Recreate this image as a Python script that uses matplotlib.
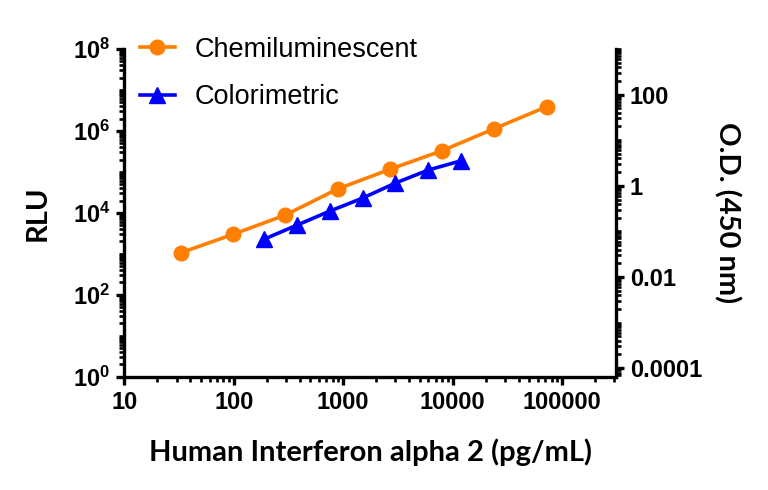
import numpy as np
import matplotlib
matplotlib.use("Agg")
import matplotlib.pyplot as plt
from matplotlib.ticker import FixedLocator, LogLocator, NullFormatter, FuncFormatter
from matplotlib import font_manager

# data
chemi_conc = [32.9, 98.8, 296, 889, 2667, 8000, 24000, 72000]
chemi_rlu = [1065, 3000, 8870, 38300, 115700, 329000, 1135000, 3900000]
color_conc = [188, 375, 750, 1500, 3000, 6000, 12000]
color_od = [0.067, 0.136, 0.277, 0.536, 1.15, 2.22, 3.55]

left_ticks = [1e0, 1e2, 1e4, 1e6, 1e8]
right_ticks = [1e-4, 1e-2, 1, 100]
right_labels = ["0.0001", "0.01", "1", "100"]
x_ticks = [10, 100, 1000, 10000, 100000]

names = {f.name for f in font_manager.fontManager.ttflist}
tick_font = "Liberation Sans Narrow" if "Liberation Sans Narrow" in names else "Liberation Sans"
plt.rcParams["mathtext.fontset"] = "custom"
plt.rcParams["mathtext.bf"] = tick_font + ":bold"
plt.rcParams["mathtext.rm"] = tick_font

ORANGE = "#ff8000"
BLUE = "#0000ff"
LW = 2.6

fig = plt.figure(figsize=(7.68, 4.9), dpi=100)
ax = fig.add_axes([0.1619, 0.2312, 0.802 - 0.1619, 0.9 - 0.2312])
ax2 = ax.twinx()

l1, = ax.plot(chemi_conc, chemi_rlu, "-o", color=ORANGE, lw=LW, ms=10.5,
              label="Chemiluminescent", clip_on=False)
l2, = ax2.plot(color_conc, color_od, "-^", color=BLUE, lw=LW, ms=11,
               label="Colorimetric", clip_on=False)

ax.set_xscale("log")
ax.set_yscale("log")
ax2.set_yscale("log")
ax.set_xlim(10, 3.1e5)
ax.set_ylim(1, 1e8)
ax2.set_ylim(6.5e-5, 1000)

for a in (ax, ax2):
    a.spines["top"].set_visible(False)
    for s in a.spines.values():
        s.set_linewidth(2.4)
ax.spines["right"].set_visible(False)
ax2.spines["left"].set_visible(False)
ax2.spines["bottom"].set_visible(False)

tick_kw = dict(fontfamily=tick_font, fontweight="bold", fontsize=17)

ax.xaxis.set_major_locator(FixedLocator(x_ticks))
ax.xaxis.set_minor_locator(LogLocator(base=10, subs=np.arange(2, 10), numticks=20))
ax.xaxis.set_minor_formatter(NullFormatter())
ax.set_xticklabels([str(v) for v in x_ticks], **tick_kw)

ax.yaxis.set_major_locator(FixedLocator(left_ticks))
ax.yaxis.set_minor_locator(LogLocator(base=10, subs=np.arange(1, 10), numticks=20))
ax.yaxis.set_minor_formatter(NullFormatter())
ax.yaxis.set_major_formatter(FuncFormatter(lambda v, p: r"$\mathbf{10^{%d}}$" % round(np.log10(v))))
for t in ax.get_yticklabels():
    t.set_fontsize(17)

ax2.yaxis.set_major_locator(FixedLocator(right_ticks))
ax2.yaxis.set_minor_locator(LogLocator(base=10, subs=np.arange(1, 10), numticks=20))
ax2.yaxis.set_minor_formatter(NullFormatter())
ax2.set_yticklabels(right_labels, **tick_kw)

for a in (ax, ax2):
    a.tick_params(which="major", length=6, width=2.4, pad=4, direction="out")
    a.tick_params(which="minor", length=3.5, width=1.9, direction="out")

label_kw = dict(fontfamily="Lato", fontweight="bold", fontsize=21)
ax.set_xlabel("Human Interferon alpha 2 (pg/mL)", labelpad=18, **label_kw)
ax.set_ylabel("RLU", labelpad=16, **label_kw)
ax2.set_ylabel("O.D. (450 nm)", rotation=270, labelpad=28, **label_kw)

fig.legend([l1, l2], ["Chemiluminescent", "Colorimetric"], loc="upper left",
           bbox_to_anchor=(0.182, 0.925), frameon=False, borderpad=0,
           borderaxespad=0, handlelength=1.3, handletextpad=0.72,
           labelspacing=0.8, prop={"family": "Liberation Sans", "size": 19.5})

fig.savefig("out.png", dpi=100)
